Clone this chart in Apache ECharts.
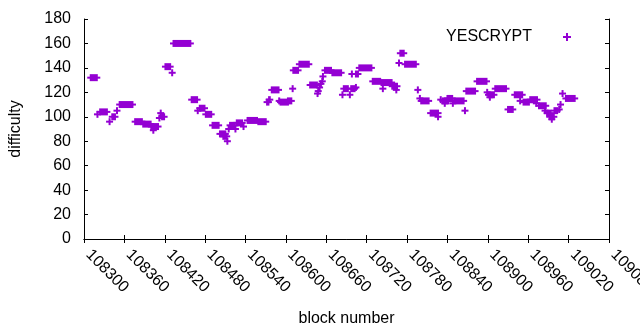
<!DOCTYPE html>
<html>
<head>
<meta charset="utf-8">
<script src="https://cdn.jsdelivr.net/npm/echarts@6/dist/echarts.min.js"></script>
<style>
  html, body { margin: 0; padding: 0; background: #fff; }
  #chart { width: 640px; height: 330px; }
</style>
</head>
<body>
<div id="chart"></div>
<script>
// runs of blocks with the same YESCRYPT difficulty (first block, last block, value)
const runFirst = [
  108310, 108320, 108324, 108338, 108342, 108349, 108353, 108376, 108388, 108400,
  108403, 108412, 108414, 108416, 108421, 108431, 108433, 108460, 108469, 108472,
  108481, 108491, 108502, 108507, 108513, 108515, 108517, 108525, 108527, 108537,
  108543, 108559, 108572, 108575, 108579, 108590, 108592, 108603, 108610, 108611,
  108620, 108636, 108647, 108648, 108650, 108652, 108654, 108655, 108658, 108669,
  108684, 108686, 108695, 108697, 108704, 108698, 108704, 108709, 108729, 108742,
  108744, 108758, 108764, 108768, 108770, 108777, 108796, 108799, 108801, 108815,
  108826, 108830, 108833, 108836, 108840, 108848, 108850, 108866, 108868, 108884,
  108899, 108901, 108903, 108911, 108930, 108940, 108948, 108953, 108963, 108972,
  108976, 108985, 108988, 108992, 108995, 108999, 109006, 109008, 109011, 109016
]
const runLast = [
  108319, 108320, 108334, 108338, 108346, 108349, 108372, 108386, 108399, 108410,
  108403, 108412, 108414, 108419, 108428, 108431, 108458, 108468, 108469, 108479,
  108489, 108500, 108510, 108512, 108513, 108515, 108524, 108525, 108535, 108537,
  108557, 108570, 108574, 108576, 108589, 108590, 108603, 108608, 108610, 108618,
  108634, 108646, 108647, 108648, 108650, 108652, 108654, 108655, 108667, 108682,
  108684, 108692, 108695, 108702, 108704, 108698, 108707, 108727, 108740, 108757,
  108744, 108765, 108764, 108768, 108775, 108793, 108796, 108799, 108812, 108826,
  108826, 108830, 108841, 108836, 108847, 108848, 108864, 108866, 108881, 108898,
  108899, 108909, 108903, 108927, 108937, 108951, 108948, 108961, 108973, 108972,
  108986, 108985, 108993, 108998, 108995, 109003, 109006, 109008, 109011, 109029
]
const runValue = [
  132, 102, 104, 96, 100, 105, 110, 96, 94, 92,
  89, 99, 103, 100, 141, 136, 160, 114, 105, 107,
  102, 93, 86, 84, 80, 90, 93, 90, 95, 92,
  97, 96, 112, 114, 122, 113, 112, 113, 123, 138,
  143, 126, 119, 121, 124, 127, 129, 133, 138, 136,
  118, 123, 118, 123, 124, 135, 135, 140, 129, 128,
  123, 125, 122, 144, 152, 143, 122, 115, 113, 103,
  100, 114, 113, 111, 115, 111, 113, 105, 121, 129,
  120, 118, 116, 123, 106, 118, 113, 112, 114, 111,
  109, 105, 103, 100, 98, 105, 106, 110, 119, 115
]

const xMin = 108300, xMax = 109080, xStep = 60
const yMin = 0, yMax = 180, yStep = 20

const COLOR = '#9400d3'
const FONT = 'Liberation Sans'

const runs = runFirst.map((f, i) => [f, runLast[i], runValue[i]])

// consecutive '+' points overlap into a bar: draw the union of the plus marks
function renderRun(params, api) {
  const a = api.coord([api.value(0), api.value(2)])
  const b = api.coord([api.value(1), api.value(2)])
  const arm = 3.5
  const t = 1
  return {
    type: 'group',
    children: [
      { type: 'rect', shape: { x: a[0] - t, y: a[1] - arm, width: b[0] - a[0] + 2 * t, height: 2 * arm }, style: { fill: COLOR } },
      { type: 'rect', shape: { x: a[0] - arm, y: a[1] - t, width: b[0] - a[0] + 2 * arm, height: 2 * t }, style: { fill: COLOR } },
    ],
  }
}

const tickStyle = { show: true, inside: true, length: 4, lineStyle: { color: '#000', width: 1 } }
const lineStyle = { show: true, lineStyle: { color: '#000', width: 1 } }

const chart = echarts.init(document.getElementById('chart'), null, { renderer: 'canvas' })
chart.setOption({
  animation: false,
  textStyle: { fontFamily: FONT },
  grid: { left: 84, right: 31, top: 19, bottom: 91, outerBoundsMode: 'none', containLabel: false },
  legend: {
    data: [{ name: 'YESCRYPT', icon: 'path://M3,0H5V3H8V5H5V8H3V5H0V3H3Z' }],
    right: 64,
    top: 24,
    align: 'right',
    itemWidth: 8,
    itemHeight: 8,
    selectedMode: false,
    textStyle: { fontFamily: FONT, fontSize: 16, color: '#000', padding: [0, 26, 0, 0] },
    itemStyle: { color: COLOR },
  },
  xAxis: [
    {
      type: 'value',
      min: xMin, max: xMax, interval: xStep,
      name: 'block number',
      nameLocation: 'middle',
      nameGap: 72,
      nameTextStyle: { fontFamily: FONT, fontSize: 16, color: '#000' },
      axisLine: lineStyle,
      axisTick: tickStyle,
      splitLine: { show: false },
      axisLabel: {
        rotate: -45,
        margin: 9,
        padding: [0, 0, 0, 6],
        color: '#000',
        fontFamily: FONT,
        fontSize: 16,
        showMaxLabel: true,
        showMinLabel: true,
        hideOverlap: false,
        formatter: v => String(v),
      },
    },
    {
      type: 'value', position: 'top',
      min: xMin, max: xMax, interval: xStep,
      axisLine: lineStyle, axisTick: tickStyle,
      axisLabel: { show: false }, splitLine: { show: false },
    },
  ],
  yAxis: [
    {
      type: 'value',
      min: yMin, max: yMax, interval: yStep,
      name: 'difficulty',
      nameLocation: 'middle',
      nameGap: 60,
      nameTextStyle: { fontFamily: FONT, fontSize: 16, color: '#000' },
      axisLine: lineStyle,
      axisTick: tickStyle,
      splitLine: { show: false },
      axisLabel: { color: '#000', fontFamily: FONT, fontSize: 16, margin: 13 },
    },
    {
      type: 'value', position: 'right',
      min: yMin, max: yMax, interval: yStep,
      axisLine: lineStyle, axisTick: tickStyle,
      axisLabel: { show: false }, splitLine: { show: false },
    },
  ],
  series: [
    {
      name: 'YESCRYPT',
      type: 'custom',
      renderItem: renderRun,
      data: runs,
      encode: { x: [0, 1], y: 2 },
      itemStyle: { color: COLOR },
      silent: true,
    },
  ],
})
</script>
</body>
</html>
